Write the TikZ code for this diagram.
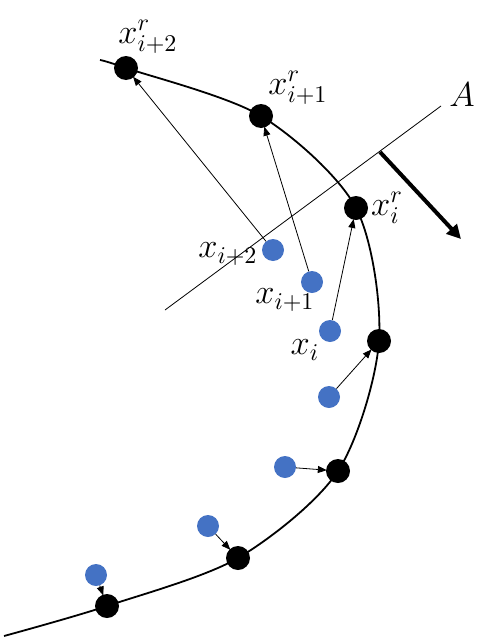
\documentclass[tikz,border=0pt]{standalone}
\usepackage{amsmath}
\usepackage{tikz}
\usetikzlibrary{arrows.meta, positioning}
\definecolor{ptblue}{RGB}{68, 114, 196}
\newcommand{\biglbl}[1]{\scalebox{2.4}{$#1$}}

\begin{document}
\begin{tikzpicture}[x=1pt, y=-1pt,
      rpt/.style={circle, fill=black, minimum size=24pt, inner sep=0pt},
      opt/.style={circle, fill=ptblue, minimum size=22pt, inner sep=0pt},
      lbl/.style={inner sep=0pt, font=\Large},
      ar/.style={-{Triangle[length=9pt, width=7pt]}, line width=0.8pt, shorten >=-1pt}
    ]
      \useasboundingbox (0,0) rectangle (495,640);

      % projection line and its normal
      \coordinate (a1) at (165,310);
      \coordinate (a2) at (441,106);
      \draw[line width=0.8pt] (a1) -- (a2);
      \node[lbl] (alab) at (462,95) {\biglbl{A}};
      \coordinate (n0) at (380,152);
      \coordinate (n1) at (461,239);
      \draw[line width=4pt, -{Triangle[length=14pt, width=14pt]}] (n0) -- (n1);

      % reconstructed curve
      \draw[line width=1.8pt] plot[smooth, tension=0.5] coordinates
        {(100,60) (126,68) (261,116) (356,208) (379,341) (338,471) (238,558) (107,606) (4,636)};

      % reconstructed points
      \node[rpt] (r1) at (126,68)  {};
      \node[rpt] (r2) at (261,116) {};
      \node[rpt] (r3) at (356,208) {};
      \node[rpt] (r4) at (379,341) {};
      \node[rpt] (r5) at (338,471) {};
      \node[rpt] (r6) at (238,558) {};
      \node[rpt] (r7) at (107,606) {};

      % original points
      \node[opt] (o1) at (273,250) {};
      \node[opt] (o2) at (312,282) {};
      \node[opt] (o3) at (330,331) {};
      \node[opt] (o4) at (329,397) {};
      \node[opt] (o5) at (285,467) {};
      \node[opt] (o6) at (208,526) {};
      \node[opt] (o7) at (96,575)  {};

      \draw[ar] (o1) -- (r1);
      \draw[ar] (o2) -- (r2);
      \draw[ar] (o3) -- (r3);
      \draw[ar] (o4) -- (r4);
      \draw[ar] (o5) -- (r5);
      \draw[ar] (o6) -- (r6);
      \draw[ar] (o7) -- (r7);

      % labels
      \node[lbl] (lr1) at (148,37)  {\biglbl{x^r_{i+2}}};
      \node[lbl] (lr2) at (298,88)  {\biglbl{x^r_{i+1}}};
      \node[lbl] (lr3) at (387,208) {\biglbl{x^r_{i}}};
      \node[lbl] (lo1) at (228,254) {\biglbl{x_{i+2}}};
      \node[lbl] (lo2) at (285,300) {\biglbl{x_{i+1}}};
      \node[lbl] (lo3) at (305,350) {\biglbl{x_{i}}};
    \end{tikzpicture}
\end{document}
